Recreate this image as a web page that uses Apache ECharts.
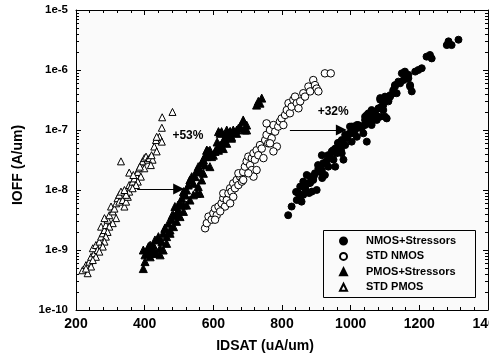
<!DOCTYPE html>
<html><head><meta charset="utf-8">
<script src="https://cdn.jsdelivr.net/npm/echarts/dist/echarts.min.js"></script>
<style>html,body{margin:0;padding:0;background:#fff}#c{width:489px;height:357px}</style>
</head><body><div id="c"></div>
<script>
const xTickLabels = ['200','400','600','800','1000','1200','1400'];
const yTickLabels = ['1e-10','1e-9','1e-8','1e-7','1e-6','1e-5'];
const seriesNames = ['NMOS+Stressors','STD NMOS','PMOS+Stressors','STD PMOS'];
const xTitle = 'IDSAT (uA/um)';
const yTitle = 'IOFF (A/um)';

const nmosStress = [
[818,3.8e-9],[828,5.3e-9],[843,6.8e-9],[857,6.4e-9],[848,8.8e-9],[862,8.3e-9],[853,1.14e-8],[867,1.07e-8],
[862,1.38e-8],[877,1.29e-8],[882,1.67e-8],[891,1.47e-8],[896,1.9e-8],[901,1.0e-8],[887,9.4e-9],[906,2.3e-8],
[916,2.15e-8],[916,3.8e-8],[920,2.8e-8],[930,3.0e-8],[925,1.78e-8],[935,2.45e-8],[940,3.6e-8],[945,4.4e-8],
[950,3.2e-8],[955,4.9e-8],[959,4.1e-8],[964,6.0e-8],[969,4.9e-8],[974,6.8e-8],[979,3.2e-8],[984,5.6e-8],
[988,7.3e-8],[993,8.3e-8],[998,1.14e-7],[1003,6.4e-8],[1008,8.8e-8],[1013,1.0e-7],[1018,7.7e-8],[1022,1.21e-7],
[1032,1.07e-7],[1042,1.21e-7],[1047,6.4e-8],[1037,8.8e-8],[974,4.1e-8],[955,2.45e-8],[872,1.78e-8],
[853,7.6e-9],[867,1.08e-8],[841,9.3e-9],[882,1.31e-8],[893,1.71e-8],[911,2.0e-8],[905,2.6e-8],[925,2.8e-8],
[934,3.8e-8],[949,4.6e-8],[963,6.1e-8],[972,4.6e-8],[984,8.3e-8],[998,8.9e-8],[1013,1.08e-7],[879,8.9e-9],[917,1.58e-8],
[1003,1.14e-7],[1018,1.21e-7],[1032,1.14e-7],[1047,1.29e-7],[1056,1.56e-7],[1066,1.47e-7],[1076,1.67e-7],
[1042,1.67e-7],[1052,1.9e-7],[1061,2.15e-7],[1071,2.0e-7],[1086,2.3e-7],[1095,2.6e-7],[1100,1.67e-7],
[1086,3.2e-7],[1110,3.0e-7],[1100,3.6e-7],[1115,3.8e-7],[1124,4.6e-7],[1134,4.1e-7],[1129,5.6e-7],
[1144,6.0e-7],[1154,6.8e-7],[1158,8.3e-7],[1149,8.8e-7],[1168,7.3e-7],[1173,5.6e-7],
[1314,3.2e-6],[1285,3.0e-6],[1280,2.6e-6],[1294,2.6e-6],[1231,1.78e-6],[1236,1.56e-6],[1221,1.67e-6],
[1207,1.07e-6],[1197,1.0e-6],[1188,9.4e-7],[1168,8.3e-7],[1158,9.4e-7],[1163,7.3e-7],[1139,6.4e-7],
[1173,5.3e-7],[1178,4.4e-7],[1129,5.3e-7],[1124,4.1e-7],[1115,3.6e-7],[1110,3.2e-7],[1100,3.0e-7],
[1086,3.4e-7],[1090,2.45e-7],[1095,2.15e-7],[1105,1.56e-7],[1081,2.3e-7],[1066,1.9e-7],[1056,1.67e-7],
[1047,1.78e-7],[1042,1.47e-7],[1061,1.21e-7],[1027,1.17e-7],[1008,1.14e-7],[1076,1.47e-7],[1086,1.67e-7]
];

const stdNmos = [
[576,2.3e-9],[581,2.8e-9],[586,3.6e-9],[595,3.2e-9],[600,4.1e-9],[605,4.9e-9],[610,3.8e-9],[615,5.3e-9],
[624,6.0e-9],[629,7.3e-9],[634,5.3e-9],[639,6.8e-9],[629,8.8e-9],[644,8.8e-9],[649,1.07e-8],[653,9.4e-9],
[658,1.29e-8],[663,1.07e-8],[668,1.47e-8],[673,1.21e-8],[678,1.67e-8],[683,1.38e-8],[673,1.9e-8],[687,2.0e-8],
[692,2.45e-8],[697,3.0e-8],[707,2.6e-8],[712,2.15e-8],[702,3.6e-8],[712,3.4e-8],[717,4.1e-8],[721,3.2e-8],
[726,4.6e-8],[731,3.8e-8],[736,5.6e-8],[741,4.9e-8],[746,3.4e-8],[751,6.8e-8],[755,8.3e-8],[760,6.0e-8],
[765,1.0e-7],[770,7.3e-8],[775,1.21e-7],[780,9.4e-8],[785,5.3e-8],[789,1.14e-7],[794,1.38e-7],[799,1.56e-7],
[804,1.21e-7],[809,1.78e-7],[814,2.15e-7],[819,2.8e-7],[823,1.9e-7],[828,2.45e-7],[833,3.2e-7],[838,3.6e-7],
[843,2.8e-7],[848,2.3e-7],[853,3.0e-7],[862,4.1e-7],[867,3.6e-7],[877,5.3e-7],[882,4.4e-7],[891,6.8e-7],
[896,5.6e-7],[901,4.9e-7],[906,4.4e-7],[925,8.8e-7],[942,8.8e-7],[755,1.29e-7],[765,6.0e-8],[775,4.4e-8],
[726,2.15e-8],[717,1.67e-8],[702,1.9e-8],[687,1.47e-8],[658,7.7e-9],[649,6.0e-9],[620,4.4e-9],[605,3.2e-9]
];

const pmosStress = [
[396,4.9e-10],[401,6.4e-10],[406,8.8e-10],[416,1.0e-9],[411,1.14e-9],[425,1.21e-9],[430,1.47e-9],[435,8.8e-10],
[445,1.07e-9],[450,1.38e-9],[440,1.67e-9],[454,1.9e-9],[464,1.67e-9],[459,2.3e-9],[469,2.8e-9],[474,2.15e-9],
[479,3.2e-9],[484,3.8e-9],[493,4.1e-9],[488,5.3e-9],[498,4.6e-9],[503,6.0e-9],[508,7.3e-9],[513,5.6e-9],
[518,8.3e-9],[522,1.0e-8],[513,9.4e-9],[527,1.21e-8],[532,1.47e-8],[537,1.67e-8],[542,1.29e-8],[547,1.67e-8],
[552,2.0e-8],[556,2.45e-8],[561,2.15e-8],[566,2.8e-8],[571,3.2e-8],[576,2.6e-8],[581,3.6e-8],[586,4.4e-8],
[581,4.6e-8],[590,4.1e-8],[595,3.6e-8],[600,3.8e-8],[605,4.4e-8],[610,4.9e-8],[615,4.6e-8],[620,5.6e-8],
[624,5.3e-8],[629,6.4e-8],[634,7.3e-8],[639,6.0e-8],[644,8.3e-8],[649,9.4e-8],[653,7.7e-8],[658,1.0e-7],
[668,8.8e-8],[673,1.07e-7],[678,1.14e-7],[687,1.38e-7],[692,1.07e-7],[697,1.0e-7],[615,9.4e-8],[620,8.8e-8],
[639,1.0e-7],[566,1.47e-8],[556,1.14e-8],[552,8.8e-9],[542,8.3e-9],[532,6.8e-9],[522,5.6e-9],[513,4.4e-9],
[503,3.6e-9],[493,3.0e-9],[484,2.45e-9],[474,1.9e-9],[464,1.29e-9],[454,1.0e-9],[445,8.3e-10],[425,8.8e-10],
[416,7.7e-10],[401,8.3e-10],[561,8.8e-9],[571,1.9e-8],[590,2.45e-8],[396,1.0e-9],[411,9.4e-10],[425,1.05e-9],
[416,1.2e-9],[439,1.5e-9],[459,2.3e-9],[480,3.8e-9],[497,5.6e-9],[518,8.3e-9],[532,1.47e-8],[552,2.15e-8],
[570,3.2e-8],[590,4.6e-8],[611,6.3e-8],[634,7.6e-8],
[731,3.0e-7],[741,3.4e-7],[736,2.8e-7],[726,2.6e-7],[687,1.47e-7],[692,1.0e-7],[697,1.21e-7],[624,9.4e-8],
[639,8.8e-8],[649,9.4e-8],[653,7.3e-8],[668,1.0e-7],[634,6.4e-8],[629,4.9e-8],[581,4.6e-8],[576,3.6e-8]
];

const stdPmos = [
[219,4.6e-10],[234,4.1e-10],[229,5.6e-10],[239,6.4e-10],[244,7.7e-10],[253,8.8e-10],[249,1.07e-9],[258,1.21e-9],
[263,1.0e-9],[268,1.38e-9],[273,1.67e-9],[278,1.9e-9],[273,2.45e-9],[283,2.15e-9],[287,2.6e-9],[292,3.2e-9],
[283,3.4e-9],[297,3.8e-9],[302,5.3e-9],[307,4.4e-9],[312,4.9e-9],[317,6.0e-9],[321,7.3e-9],[326,8.3e-9],
[331,9.4e-9],[326,6.4e-9],[336,6.8e-9],[341,5.3e-9],[346,6.4e-9],[351,7.7e-9],[355,9.4e-9],[346,8.3e-9],
[341,1.0e-8],[355,1.21e-8],[360,1.14e-8],[365,1.38e-8],[370,1.56e-8],[375,1.78e-8],[380,2.0e-8],[384,2.3e-8],
[389,2.6e-8],[394,3.0e-8],[399,3.4e-8],[404,3.6e-8],[409,3.2e-8],[414,3.4e-8],[423,3.2e-8],[428,5.3e-8],
[433,6.8e-8],[418,2.6e-8],[399,2.3e-8],[389,1.67e-8],[380,1.38e-8],[375,1.21e-8],[365,1.07e-8],[355,1.95e-8],
[331,3.0e-8],[317,3.4e-9],[307,2.8e-9],[297,2.45e-9],[292,2.0e-9],[287,1.67e-9],[283,1.38e-9],[278,1.14e-9],
[268,9.4e-10],[258,7.7e-10],[249,6.8e-10],[244,5.3e-10],[229,4.9e-10],[481,2.0e-7],[451,1.63e-7],[450,1.09e-7],
[443,7.7e-8],[450,6.4e-8],[435,7.7e-8],[435,4.4e-8],[420,3.8e-8],[386,2.45e-8],[367,1.78e-8]
];

const arrow53 = [[378,1.04e-8],[499,1.04e-8]];
const arrow32 = [[823,1.0e-7],[973,1.0e-7]];
const notes = [{name:'+53%', value:[526,8.0e-8]},{name:'+32%', value:[949,2.0e-7]}];
const minorMultipliers = [2,3,4,5,6,7,8,9];
const decades = [1e-10,1e-9,1e-8,1e-7,1e-6];

const X_MIN = 200, X_MAX = 1400;
const FONT = '"Liberation Sans", Arial, Helvetica, sans-serif';
const minorVals = [];
decades.forEach(d => minorMultipliers.forEach(m => minorVals.push([X_MIN, m * d])));

const chart = echarts.init(document.getElementById('c'), null, {renderer: 'canvas'});

const axisCommon = {
  min: X_MIN, max: X_MAX, interval: 200,
  axisLine: {show: true, lineStyle: {color: '#000', width: 1}},
  axisTick: {show: true, inside: true, length: 5, lineStyle: {color: '#000', width: 1}},
  minorTick: {show: true, splitNumber: 5, length: 3, lineStyle: {color: '#000', width: 1}},
  splitLine: {show: false}, minorSplitLine: {show: false}
};
const yCommon = {
  type: 'log', logBase: 10, min: 1e-10, max: 1e-5,
  axisLine: {show: true, lineStyle: {color: '#000', width: 1}},
  axisTick: {show: true, inside: true, length: 5, lineStyle: {color: '#000', width: 1}},
  splitLine: {show: false}
};

function scatterSeries(name, data, symbol, size, fill) {
  return {
    name: name, type: 'scatter', data: data, symbol: symbol, symbolSize: size, symbolKeepAspect: true,
    itemStyle: {color: fill, borderColor: '#000', borderWidth: 1, opacity: 1},
    emphasis: {disabled: true}, silent: true, animation: false, z: 3
  };
}

chart.setOption({
  animation: false,
  backgroundColor: '#ffffff',
  grid: {left: 76, right: 1, top: 10, bottom: 47, show: true, backgroundColor: '#fafafa', borderWidth: 0, containLabel: false, outerBoundsMode: 'none'},
  xAxis: [
    Object.assign({type: 'value', position: 'bottom',
      axisLabel: {show: true, margin: 7, color: '#000', fontFamily: FONT, fontWeight: 'bold', fontSize: 14,
        formatter: (v) => xTickLabels[Math.round((v - X_MIN) / 200)]}}, axisCommon),
    Object.assign({type: 'value', position: 'top', axisLabel: {show: false}}, axisCommon)
  ],
  yAxis: [
    Object.assign({position: 'left',
      axisLabel: {show: true, margin: 8, color: '#000', fontFamily: FONT, fontWeight: 'bold', fontSize: 11.5,
        formatter: (v) => yTickLabels[Math.round(Math.log10(v)) + 10]}}, yCommon),
    Object.assign({position: 'right', axisLabel: {show: false}}, yCommon)
  ],
  legend: {
    data: seriesNames, orient: 'vertical', left: 339, top: 234,
    itemWidth: 7, itemHeight: 7, itemGap: 1.4, padding: 0, selectedMode: false, symbolKeepAspect: true,
    textStyle: {fontFamily: FONT, fontWeight: 'bold', fontSize: 11, lineHeight: 14, color: '#000', padding: [0, 0, 0, 14]}
  },
  graphic: [
    {type: 'rect', z: 100, shape: {x: 323.5, y: 230.5, width: 152, height: 67}, style: {fill: null, stroke: '#000', lineWidth: 1}},
    {type: 'text', z: 100, x: 265, y: 346, style: {text: xTitle, font: 'bold 14px ' + FONT, textAlign: 'center', textVerticalAlign: 'middle', fill: '#000'}},
    {type: 'text', z: 100, x: 18, y: 165, rotation: Math.PI / 2, style: {text: yTitle, font: 'bold 14px ' + FONT, textAlign: 'center', textVerticalAlign: 'middle', fill: '#000'}}
  ],
  series: [
    scatterSeries(seriesNames[3], stdPmos, 'triangle', 7, '#ffffff'),
    scatterSeries(seriesNames[2], pmosStress, 'triangle', 8, '#000000'),
    scatterSeries(seriesNames[1], stdNmos, 'circle', 7.5, '#ffffff'),
    scatterSeries(seriesNames[0], nmosStress, 'circle', 7, '#000000'),
    {
      type: 'lines', coordinateSystem: 'cartesian2d', silent: true, z: 4,
      symbol: ['none', 'triangle'], symbolSize: 11,
      lineStyle: {color: '#000', width: 1, opacity: 1, curveness: 0},
      itemStyle: {color: '#000'},
      data: [{coords: arrow53}, {coords: arrow32}]
    },
    {
      type: 'scatter', data: notes, symbolSize: 0, itemStyle: {color: 'rgba(0,0,0,0)', opacity: 1}, silent: true, z: 5,
      label: {show: true, position: 'inside', formatter: '{b}', color: '#000', opacity: 1, fontFamily: FONT, fontWeight: 'bold', fontSize: 12}
    },
    {
      type: 'custom', data: minorVals, silent: true, z: 6, clip: false,
      encode: {x: 0, y: 1},
      renderItem: function (params, api) {
        const v = api.value(1);
        const l = api.coord([X_MIN, v]);
        const r = api.coord([X_MAX, v]);
        const y = Math.round(l[1]) + 0.5;
        return {type: 'group', children: [
          {type: 'line', shape: {x1: l[0], y1: y, x2: l[0] + 3, y2: y}, style: {stroke: '#000', lineWidth: 1}},
          {type: 'line', shape: {x1: r[0], y1: y, x2: r[0] - 3, y2: y}, style: {stroke: '#000', lineWidth: 1}}
        ]};
      }
    }
  ]
});
</script></body></html>
